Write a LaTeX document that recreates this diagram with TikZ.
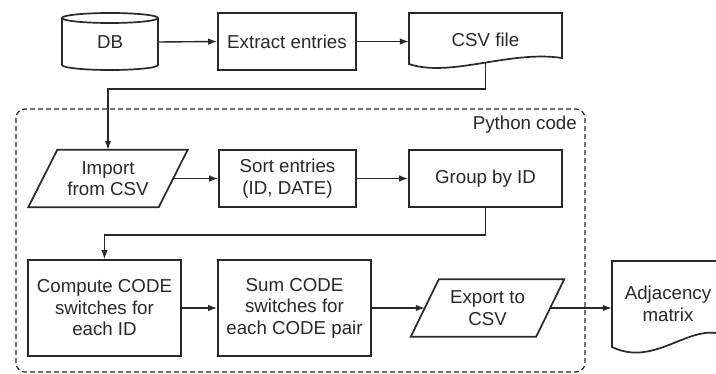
\documentclass[tikz,border=0pt]{standalone}
\usepackage{fontspec}
\setmainfont{Liberation Sans}
\usetikzlibrary{arrows.meta,calc}
\definecolor{ink}{RGB}{40,40,40}
\begin{document}
\begin{tikzpicture}[x=1pt,y=-1pt,
  every node/.style={font=\fontsize{18.7}{21.5}\selectfont, text=ink, align=center, inner sep=0pt},
  outl/.style={draw=ink, line width=1.7pt, line join=miter},
  procbox/.style={outl, minimum width=#1, minimum height=57pt},
  ghost/.style={minimum width=#1, minimum height=57pt},
  conn/.style={draw=ink, line width=1.4pt, -{Latex[length=9pt,width=6.5pt]}},
  dashbox/.style={draw=ink, line width=1.2pt, dash pattern=on 5pt off 3pt, rounded corners=9pt}]
\useasboundingbox (0,0) rectangle (716,374);
\clip (0,0) rectangle (716,374);

% python code container
\draw[dashbox] (16,109) rectangle (585,372);
\node[anchor=east] (py) at (577,125) {Python code};

% DB cylinder
\node[ghost=96pt] (db) at (110,42) {\raisebox{-3pt}{DB}};
\draw[outl] (62,18) -- (62,65) arc[start angle=180, end angle=0, x radius=48, y radius=5] -- (158,18);
\draw[outl] (110,18) ellipse[x radius=48, y radius=5];

% Extract entries
\node[procbox=138pt] (extract) at (287,41.5) {Extract entries};

% CSV file (document)
\node[ghost=153pt] (csv) at (485.5,40) {CSV file};
\draw[outl] (409,13) -- (562,13) -- (562,58) .. controls (510,50) and (450,78) .. (409,64) -- cycle;
\coordinate (csvout) at (485.5,63);

% Import from CSV (parallelogram)
\node[ghost=130pt] (import) at (108,178.5) {Import\\from CSV};
\draw[outl] ($(import.north west)+(14.5,0)$) -- ($(import.north east)+(14.5,0)$) -- ($(import.south east)-(14.5,0)$) -- ($(import.south west)-(14.5,0)$) -- cycle;

% Sort entries
\node[procbox=137pt] (sort) at (287.5,178.5) {Sort entries\\(ID, DATE)};
% Group by ID
\node[procbox=153pt] (group) at (485.5,178.5) {Group by ID};

% Compute, Sum
\node[procbox=153pt, minimum height=96pt] (compute) at (104.5,308) {Compute CODE\\switches for\\each ID};
\node[procbox=153pt, minimum height=96pt] (sum) at (294.5,308) {Sum CODE\\switches for\\each CODE pair};

% Export to CSV (parallelogram)
\node[ghost=125pt] (export) at (487.5,308) {Export to\\CSV};
\draw[outl] ($(export.north west)+(14,0)$) -- ($(export.north east)+(14,0)$) -- ($(export.south east)-(14,0)$) -- ($(export.south west)-(14,0)$) -- cycle;

% Adjacency matrix (document)
\node[ghost=112pt, minimum height=86pt] (adj) at (668,304) {Adjacency\\matrix};
\draw[outl] (612,261) -- (724,261) -- (724,335) .. controls (690,322) and (655,368) .. (612,347) -- cycle;

% connectors
\draw[conn] (db.east) -- (extract.west);
\draw[conn] (extract.east) -- (extract.east -| csv.west);
\draw[conn] (csvout) -- ++(0,26) -| (import.north);
\draw[conn] (import.east) -- (sort.west);
\draw[conn] (sort.east) -- (group.west);
\draw[conn] (group.south) -- ++(0,27) -| (compute.north);
\draw[conn] (compute.east) -- (sum.west);
\draw[conn] (sum.east) -- (export.west);
\draw[conn] (export.east) -- (export.east -| adj.west);
\end{tikzpicture}
\end{document}
